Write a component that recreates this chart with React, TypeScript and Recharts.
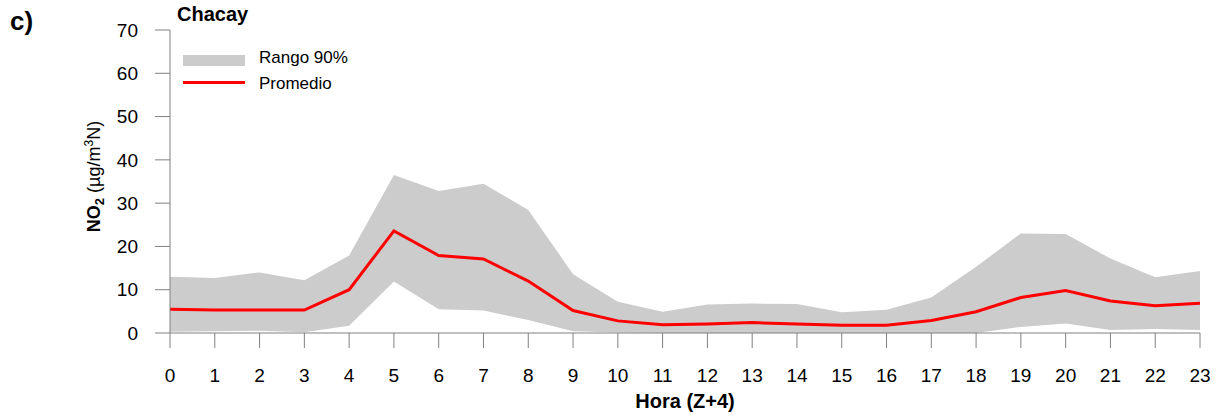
import React from 'react';
import { ComposedChart, Area, Line, XAxis, YAxis } from 'recharts';

const hours = [0,1,2,3,4,5,6,7,8,9,10,11,12,13,14,15,16,17,18,19,20,21,22,23];
const meanValues = [5.5,5.3,5.3,5.3,10.0,23.6,17.9,17.1,12.0,5.2,2.8,1.9,2.1,2.4,2.1,1.8,1.8,2.9,4.9,8.2,9.8,7.4,6.3,6.9];
const upperValues = [13.0,12.7,14.0,12.2,17.9,36.5,32.8,34.5,28.4,13.6,7.2,4.9,6.6,6.8,6.7,4.8,5.4,8.2,15.3,23.0,22.9,17.2,12.9,14.3];
const lowerValues = [0.3,0.4,0.5,0.2,1.7,11.9,5.5,5.2,3.0,0.4,0.1,0,0,0,0,0,0,0,0,1.4,2.2,0.7,0.9,0.7];
const yTicks = [0,10,20,30,40,50,60,70];
const panelLabel = 'c)';
const stationName = 'Chacay';
const rangeLabel = 'Rango 90%';
const meanLabel = 'Promedio';
const xTitle = 'Hora (Z+4)';

const data = hours.map((h, i) => ({ hour: h, mean: meanValues[i], range: [lowerValues[i], upperValues[i]] }));

const FONT = '"Liberation Sans", Arial, sans-serif';
const AXIS = '#808080';

const Overlay = () => (
  <svg width={400} height={100} style={{ position: 'absolute', left: 0, top: 0, overflow: 'visible', pointerEvents: 'none' }}>
    <text x={10} y={30} fontFamily={FONT} fontWeight="bold" fontSize={26} fill="#000">{panelLabel}</text>
    <text x={177} y={21} fontFamily={FONT} fontWeight="bold" fontSize={20} fill="#000">{stationName}</text>
    <rect x={183} y={55} width={62} height={11} fill="#cccccc" />
    <text x={259} y={62.5} fontFamily={FONT} fontSize={17} fill="#000">{rangeLabel}</text>
    <line x1={183} x2={245} y1={82.5} y2={82.5} stroke="#ff0000" strokeWidth={3} />
    <text x={259} y={88.5} fontFamily={FONT} fontSize={17} fill="#000">{meanLabel}</text>
  </svg>
);

const YLabel = (props: any) => {
  const vb = props.viewBox || { x: 0, y: 30, width: 170, height: 303 };
  const cx = 100;
  const cy = vb.y + vb.height / 2 - 5;
  return (
    <text x={cx} y={cy} transform={`rotate(-90, ${cx}, ${cy})`} textAnchor="middle" fontFamily={FONT} fontSize={18} fill="#000">
      <tspan fontWeight="bold">NO</tspan>
      <tspan fontWeight="bold" fontSize={13} dy={4}>2</tspan>
      <tspan dy={-4}> (µg/m</tspan>
      <tspan fontSize={12} dy={-7}>3</tspan>
      <tspan dy={7}>N)</tspan>
    </text>
  );
};

const XLabel = (props: any) => {
  const vb = props.viewBox || { x: 170, y: 333, width: 1030, height: 82 };
  return (
    <text x={vb.x + vb.width / 2} y={vb.y + 74.5} textAnchor="middle" fontFamily={FONT} fontWeight="bold" fontSize={20} fill="#000">{xTitle}</text>
  );
};

export default function App() {
  return (
    <div style={{ position: 'absolute', left: 0, top: 0, width: 1217, height: 415, background: '#fff' }}>
      <ComposedChart width={1217} height={415} data={data} margin={{ top: 30, right: 17, left: 0, bottom: 0 }}>
        <XAxis
          dataKey="hour"
          type="number"
          domain={[0, 23]}
          ticks={hours}
          interval={0}
          height={82}
          tickSize={15}
          tickMargin={21}
          stroke={AXIS}
          tick={{ fill: '#000', fontSize: 19, fontFamily: FONT }}
          label={<XLabel />}
        />
        <YAxis
          type="number"
          domain={[0, 70]}
          ticks={yTicks}
          interval={0}
          width={170}
          tickSize={15}
          tickMargin={17}
          stroke={AXIS}
          tick={{ fill: '#000', fontSize: 19, fontFamily: FONT }}
          label={<YLabel />}
        />
        <Area
          type="linear"
          dataKey="range"
          stroke="none"
          fill="#cccccc"
          fillOpacity={1}
          isAnimationActive={false}
          activeDot={false}
          dot={false}
        />
        <Line
          type="linear"
          dataKey="mean"
          stroke="#ff0000"
          strokeWidth={3}
          dot={false}
          activeDot={false}
          isAnimationActive={false}
        />
      </ComposedChart>
      <Overlay />
    </div>
  );
}
